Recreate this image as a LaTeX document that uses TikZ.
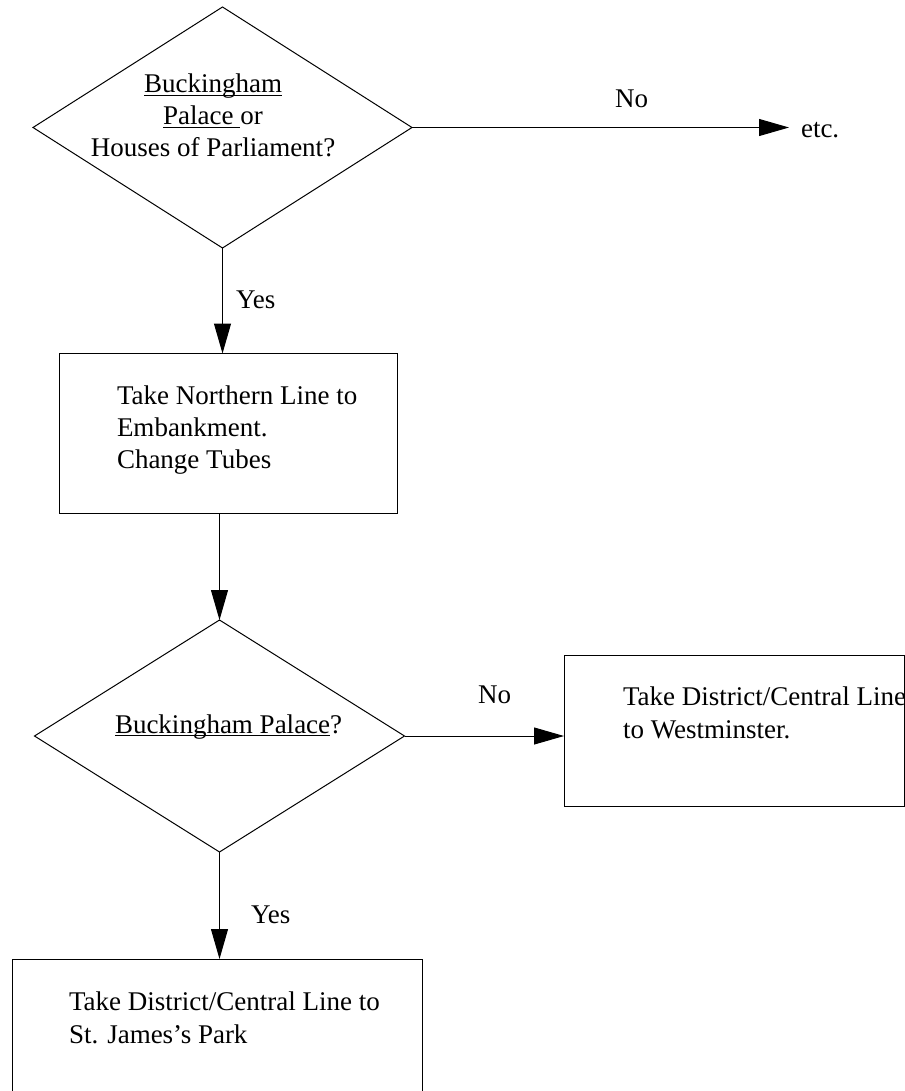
\documentclass[tikz,border=0pt]{standalone}
\usepackage{fontspec}
\setmainfont{Liberation Serif}
\usetikzlibrary{arrows.meta,shapes.geometric}
% underline drawn at a fixed distance below the baseline
\newcommand\ulword[1]{\setbox0\hbox{#1}\rlap{\rule[-3pt]{\wd0}{1.2pt}}\box0}

\begin{document}
\begin{tikzpicture}[x=1pt,y=-1pt,
  every node/.style={inner sep=0pt,outer sep=0pt},
  txt/.style={font=\fontsize{27}{32}\selectfont,anchor=base west},
  ctxt/.style={font=\fontsize{27}{32}\selectfont,anchor=base},
  decision/.style={draw,line width=1pt,diamond,minimum width=#1},
  stepbox/.style={draw,line width=1pt,rectangle,anchor=north west},
  flow/.style={line width=1pt,-{Triangle[length=30pt,width=17pt]}}]
\useasboundingbox (0,0) rectangle (904,1091);

% first question
\node[decision=379pt,minimum height=241pt] (q1) at (222.5,127.5) {};
\node[ctxt] (q1a) at (213,93) {\ulword{Buckingham}};
\node[ctxt] (q1b) at (213,125) {\ulword{Palace\ }or};
\node[ctxt] (q1c) at (213,157) {Houses of Parliament?};
\coordinate (etcend) at (789,127.5);
\node[txt] (etc) at (801,138) {etc.};
\node[txt] (no1) at (615,108) {No};
\draw[flow] (q1.east) -- (etcend);

% first step
\node[stepbox,minimum width=338pt,minimum height=160pt] (s1) at (59,353.5) {};
\node[txt] (s1a) at (117,404) {Take Northern Line to};
\node[txt] (s1b) at (117,436) {Embankment.};
\node[txt] (s1c) at (117,468) {Change Tubes};
\node[txt] (yes1) at (236,308) {Yes};
\draw[flow] (q1.south) -- (q1.south |- s1.north);

% second question
\node[decision=370pt,minimum height=232pt] (q2) at (219.5,736) {};
\node[txt] (q2a) at (115,733) {\ulword{Buckingham Palace}?};
\draw[flow] (s1.south -| q2.north) -- (q2.north);

% branch: not the palace
\node[stepbox,minimum width=340pt,minimum height=151pt] (s2) at (564,655) {};
\node[txt] (s2a) at (623,705) {Take District/Central Line};
\node[txt] (s2b) at (623,738) {to Westminster.};
\node[txt] (no2) at (478,703) {No};
\draw[flow] (q2.east) -- (q2.east -| s2.west);

% branch: the palace
\node[stepbox,minimum width=410pt,minimum height=140pt] (s3) at (12,959) {};
\node[txt] (s3a) at (69,1010) {Take District/Central Line to};
\node[txt] (s3b) at (69,1043) {St. James's Park};
\node[txt] (yes2) at (251,923) {Yes};
\draw[flow] (q2.south) -- (q2.south |- s3.north);
\end{tikzpicture}
\end{document}
